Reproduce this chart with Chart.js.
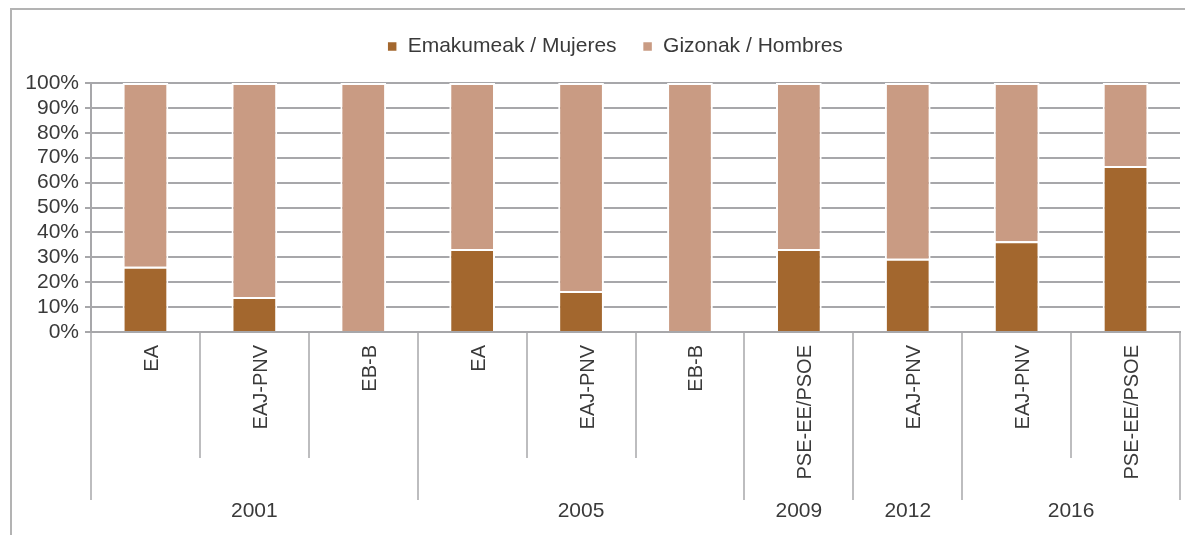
<!DOCTYPE html>
<html>
<head>
<meta charset="utf-8">
<script src="https://cdn.jsdelivr.net/npm/chart.js@4"></script>
<style>
  body { margin: 0; background: #fff; }
</style>
</head>
<body>
<canvas id="partyChart" width="1185" height="535"></canvas>
<script>
// parties per election, and the year each one belongs to
const parties = ['EA', 'EAJ-PNV', 'EB-B', 'EA', 'EAJ-PNV', 'EB-B', 'PSE-EE/PSOE', 'EAJ-PNV', 'EAJ-PNV', 'PSE-EE/PSOE'];
const years = ['2001', '2001', '2001', '2005', '2005', '2005', '2009', '2012', '2016', '2016'];
const women = [26.2, 14.1, 0, 33.3, 16.5, 0, 33.3, 29.4, 36.4, 66.7];  // % women
const men = [73.8, 85.9, 100, 66.7, 83.5, 100, 66.7, 70.6, 63.6, 33.3];  // % men
const yTicks = [0, 10, 20, 30, 40, 50, 60, 70, 80, 90, 100];

const gridGrey = '#a7a7aa';
const textColor = '#3a3a3a';
const fontFamily = "'Liberation Sans', Arial, sans-serif";
const font = { family: fontFamily, size: 21 };

// draws the frame, the category separators and the year row
const groupAxis = {
    id: 'groupAxis',
    afterLayout(chart) {
        // legend sits a bit right of the canvas centre in the original
        chart.legend.left += 18;
        chart.legend.right += 18;
    },
    beforeDraw(chart) {
        const ctx = chart.ctx;
        ctx.save();
        ctx.strokeStyle = '#b3b3b3';
        ctx.lineWidth = 2;
        ctx.beginPath();
        ctx.moveTo(11, 535);
        ctx.lineTo(11, 9);
        ctx.lineTo(1185, 9);
        ctx.stroke();
        ctx.restore();
    },
    afterDraw(chart) {
        const ctx = chart.ctx;
        const x = chart.scales.x;
        const bottom = chart.chartArea.bottom;
        const step = x.getPixelForValue(1) - x.getPixelForValue(0);
        ctx.save();
        ctx.strokeStyle = gridGrey;
        ctx.lineWidth = 1.5;
        for (let i = 0; i <= parties.length; i++) {
            const px = Math.round(x.getPixelForValue(i) - step / 2);
            const groupEdge = i === 0 || i === parties.length || years[i] !== years[i - 1];
            ctx.beginPath();
            ctx.moveTo(px, bottom);
            ctx.lineTo(px, groupEdge ? 500 : 458);
            ctx.stroke();
        }
        ctx.fillStyle = textColor;
        ctx.font = font.size + 'px ' + font.family;
        ctx.textAlign = 'center';
        ctx.textBaseline = 'middle';
        let start = 0;
        for (let i = 1; i <= years.length; i++) {
            if (i === years.length || years[i] !== years[start]) {
                const mid = (x.getPixelForValue(start) + x.getPixelForValue(i - 1)) / 2;
                ctx.fillText(years[start], mid, 511);
                start = i;
            }
        }
        ctx.restore();
    }
};

new Chart(document.getElementById('partyChart'), {
    type: 'bar',
    data: {
        labels: parties,
        datasets: [{
            label: 'Emakumeak / Mujeres',
            data: women,
            backgroundColor: '#a3672e',
            borderColor: '#ffffff',
            borderWidth: { left: 2, right: 2, top: 2, bottom: 0 },
            borderSkipped: false
        }, {
            label: 'Gizonak / Hombres',
            data: men,
            backgroundColor: '#c99b83',
            borderColor: '#ffffff',
            borderWidth: { left: 2, right: 2, top: 2, bottom: 0 },
            borderSkipped: false
        }]
    },
    options: {
        responsive: false,
        animation: false,
        devicePixelRatio: 1,
        barPercentage: 0.42,
        categoryPercentage: 1,
        layout: { padding: { left: 14, right: 5, top: 10, bottom: 0 } },
        plugins: {
            legend: {
                position: 'top',
                labels: {
                    boxWidth: 10,
                    boxHeight: 10,
                    padding: 26,
                    color: textColor,
                    font: font
                }
            },
            title: {  // empty spacer between legend and plot
                display: true,
                text: '',
                weight: 500,
                padding: 0,
                font: { size: 16, lineHeight: 1 }
            },
            tooltip: { enabled: false }
        },
        scales: {
            x: {
                stacked: true,
                afterFit(scale) { scale.height = 203; },
                grid: { display: false, drawTicks: false },
                border: { color: gridGrey, width: 2 },
                ticks: {
                    autoSkip: false,
                    minRotation: 90,
                    maxRotation: 90,
                    padding: 13,
                    labelOffset: 7,
                    color: textColor,
                    font: { family: fontFamily, size: 20 }
                }
            },
            y: {
                stacked: true,
                min: yTicks[0],
                max: yTicks[yTicks.length - 1],
                afterFit(scale) { scale.width = 77; },
                grid: { color: gridGrey, lineWidth: 2, tickLength: 6 },
                border: { color: gridGrey, width: 2 },
                ticks: {
                    stepSize: yTicks[1] - yTicks[0],
                    autoSkip: false,
                    padding: 6,
                    color: textColor,
                    font: font,
                    callback: v => v + '%'
                }
            }
        }
    },
    plugins: [groupAxis]
});
</script>
</body>
</html>
